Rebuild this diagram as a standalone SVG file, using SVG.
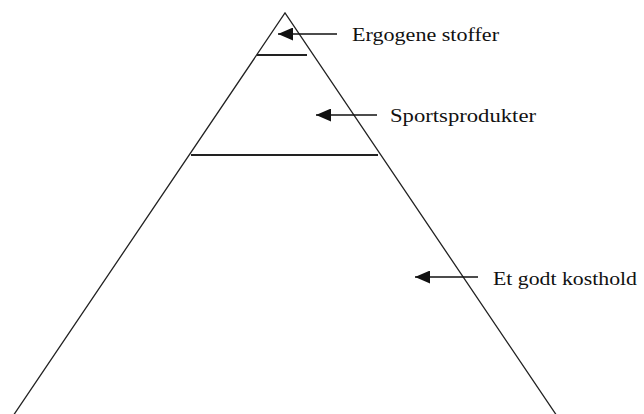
<svg xmlns="http://www.w3.org/2000/svg" width="644" height="414" viewBox="0 0 644 414">
<defs>
<style>
.edge{stroke:#222;stroke-width:1.3;fill:none}
.band{stroke:#222;stroke-width:2;fill:none}
.lbl{font-family:"Liberation Serif","Times New Roman",serif;font-size:18px;fill:#111}
.arr{stroke:#111;stroke-width:1.5;fill:none;marker-end:url(#ah)}
</style>
<marker id="ah" viewBox="0 0 15 13" refX="15" refY="6.5" markerWidth="15" markerHeight="13" markerUnits="userSpaceOnUse" orient="auto">
<path d="M0,0 L15,6.5 L0,13 Z" fill="#111"/>
</marker>
</defs>
<rect width="644" height="414" fill="#fff"/>
<g id="pyramid">
<path class="edge" d="M13,416 L285,13 L557,416"/>
<line class="band" x1="257" y1="55" x2="307" y2="55"/>
<line class="band" x1="191" y1="155" x2="378" y2="155"/>
</g>
<g id="connectors">
<line class="arr" x1="337" y1="34" x2="278" y2="34"/>
<line class="arr" x1="377" y1="115" x2="316" y2="115"/>
<line class="arr" x1="478" y1="277" x2="415" y2="277"/>
</g>
<g id="ergogene">
<text class="lbl" x="352" y="41" textLength="147" lengthAdjust="spacingAndGlyphs">Ergogene stoffer</text>
</g>
<g id="sportsprodukter">
<text class="lbl" x="390" y="122" textLength="146" lengthAdjust="spacingAndGlyphs">Sportsprodukter</text>
</g>
<g id="kosthold">
<text class="lbl" x="493" y="285" textLength="144" lengthAdjust="spacingAndGlyphs">Et godt kosthold</text>
</g>
</svg>
